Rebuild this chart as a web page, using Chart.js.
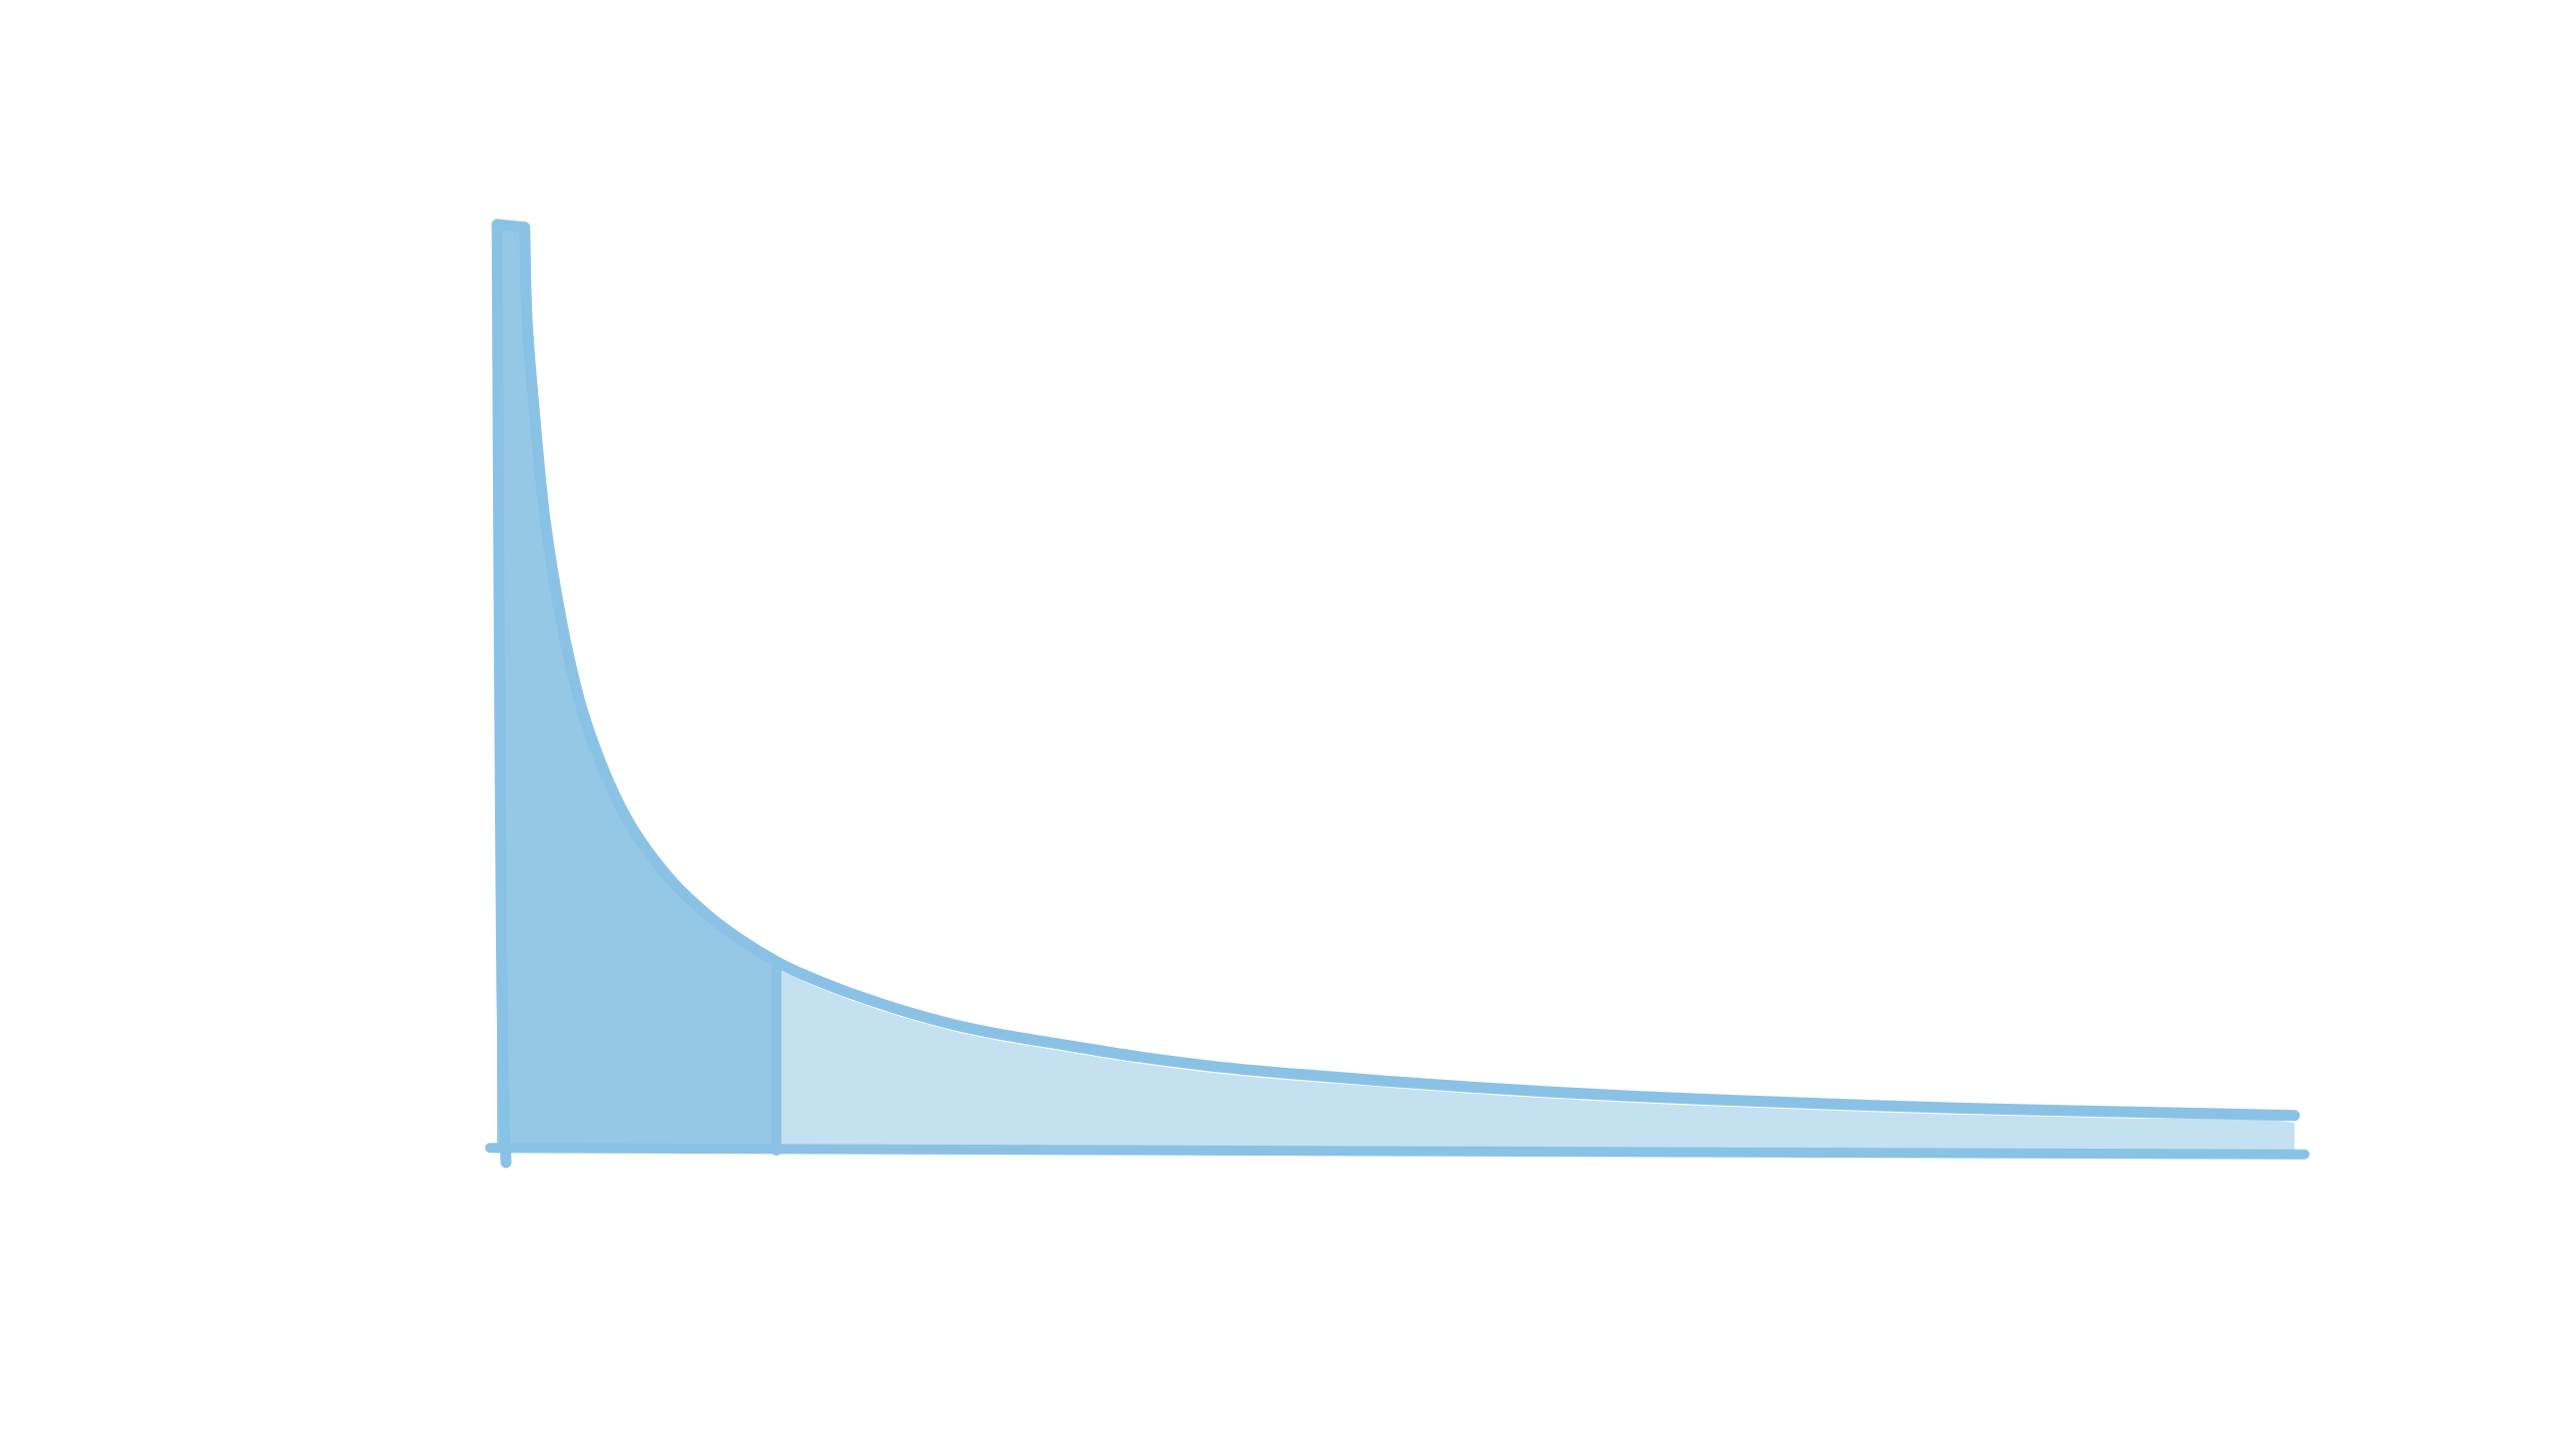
<!DOCTYPE html>
<html>
<head>
<meta charset="utf-8">
<style>
  html, body { margin: 0; padding: 0; background: #ffffff; }
  #wrap { width: 2560px; height: 1459px; }
</style>
<script src="https://cdn.jsdelivr.net/npm/chart.js@4/dist/chart.umd.min.js"></script>
</head>
<body>
<div id="wrap"><canvas id="tail-chart" width="2560" height="1459"></canvas></div>
<script>
// long tail: x is position along the axis (0-100), y is value (0-100)
const curveX = [1.80, 1.93, 2.37, 2.92, 3.80, 4.79, 5.73, 6.83, 8.09, 9.91, 11.78, 13.60, 15.69,
  17.29, 19.60, 23.18, 26.82, 31.28, 35.79, 40.25, 44.77, 53.80, 62.78, 71.75, 80.78, 89.76, 99.45];
const curveY = [99.6, 89.7, 78.9, 68.1, 57.4, 48.8, 43.2, 38.1, 33.7, 29.1, 25.6, 22.9, 20.4,
  18.9, 17.1, 14.8, 13.0, 11.5, 10.1, 9.0, 8.2, 6.9, 5.9, 5.2, 4.6, 4.2, 3.8];

// head ends where the tail starts
const headEnd = 15.69;

// lighter tail area, drawn a little under the line
const tailX = [15.96, 17.29, 19.60, 23.18, 26.82, 31.28, 35.79, 40.25, 44.77, 53.80, 62.78, 71.75, 80.78, 89.76, 99.45];
const tailY = [19.4, 18.2, 16.4, 14.1, 12.3, 10.8, 9.4, 8.3, 7.5, 6.2, 5.2, 4.5, 3.9, 3.5, 3.0];

// hand-drawn axes and the flat top of the peak
const leftX = [0.28, 0.39, 0.50, 0.61, 0.77];
const leftY = [99.9, 59.5, 27.2, 7.9, -1.3];
const capX = [0.28, 1.80];
const capY = [99.9, 99.6];
const baseX = [-0.11, 100.0];
const baseY = [0.3, -0.4];

const stroke = "#89c2e5";
const headFill = "#95c8e7";
const tailFill = "#c4e1f1";

function points(xs, ys) {
  return xs.map((x, i) => ({ x, y: ys[i] }));
}

const headPoints = points(curveX, curveY).filter((p) => p.x <= headEnd);
headPoints.unshift({ x: capX[0], y: capY[0] });
headPoints.unshift({ x: capX[0], y: 0 });
headPoints.push({ x: headEnd, y: 0 });

const tailPoints = points(tailX, tailY);
tailPoints.unshift({ x: tailX[0], y: 0 });
tailPoints.push({ x: tailX[tailX.length - 1], y: 0 });

const splitTop = curveY[curveX.indexOf(headEnd)];

const lineStyle = {
  borderColor: stroke,
  borderWidth: 11,
  borderCapStyle: "round",
  borderJoinStyle: "round",
  pointRadius: 0,
  fill: false,
  clip: false,
};

new Chart(document.getElementById("tail-chart"), {
  type: "line",
  data: {
    datasets: [
      {
        data: points(curveX, curveY),
        ...lineStyle,
        tension: 0.35,
        order: 1,
      },
      {
        data: points(capX, capY),
        ...lineStyle,
        order: 1,
      },
      {
        data: points(leftX, leftY),
        ...lineStyle,
        tension: 0.3,
        order: 2,
      },
      {
        data: points(baseX, baseY),
        ...lineStyle,
        borderWidth: 10,
        order: 2,
      },
      {
        data: [{ x: headEnd, y: splitTop }, { x: headEnd, y: 0 }],
        ...lineStyle,
        borderWidth: 10,
        order: 2,
      },
      {
        data: headPoints,
        borderWidth: 0,
        pointRadius: 0,
        backgroundColor: headFill,
        fill: "origin",
        tension: 0.35,
        clip: false,
        order: 3,
      },
      {
        data: tailPoints,
        borderWidth: 0,
        pointRadius: 0,
        backgroundColor: tailFill,
        fill: "origin",
        tension: 0.35,
        clip: false,
        order: 3,
      },
    ],
  },
  options: {
    responsive: false,
    animation: false,
    devicePixelRatio: 1,
    layout: { padding: { left: 493, right: 251, top: 224, bottom: 306 } },
    plugins: {
      legend: { display: false },
      tooltip: { enabled: false },
    },
    scales: {
      x: { type: "linear", min: 0, max: 100, display: false },
      y: { type: "linear", min: 0, max: 100, display: false },
    },
  },
});
</script>
</body>
</html>
